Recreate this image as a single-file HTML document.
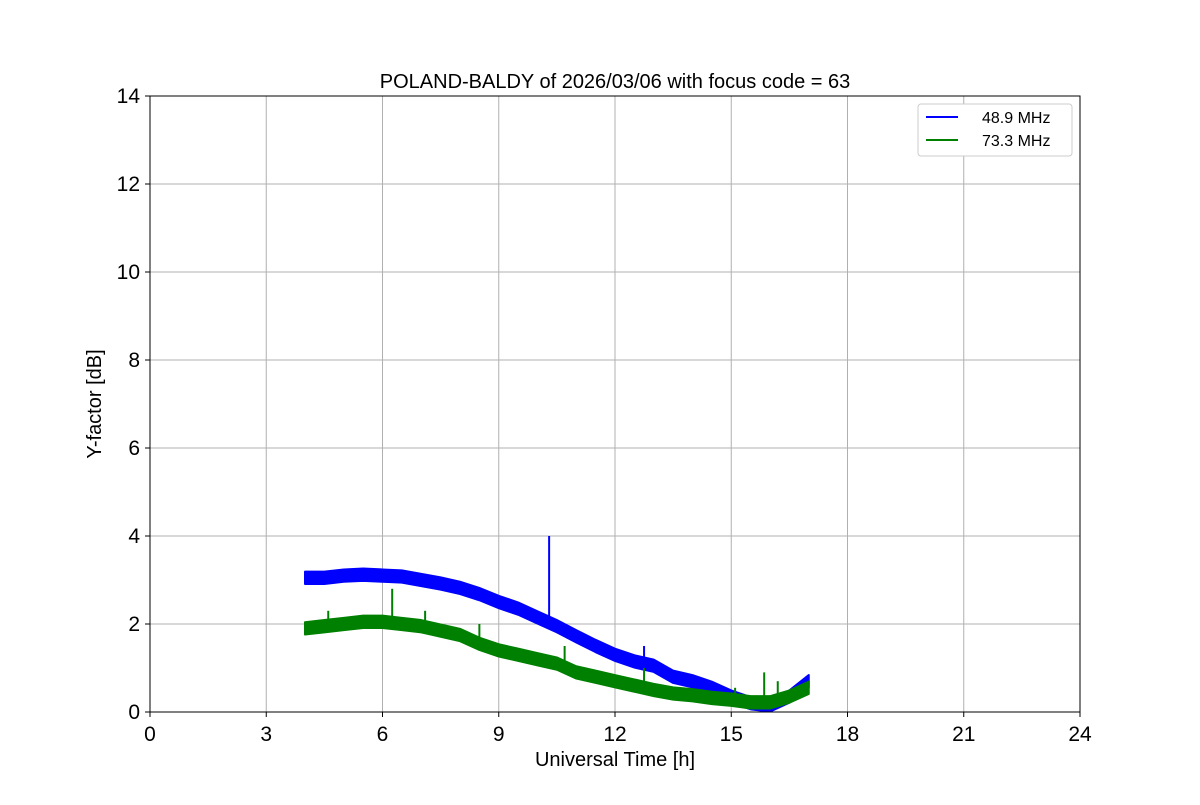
<!DOCTYPE html>
<html><head><meta charset="utf-8"><style>
body{margin:0;background:#fff;}
svg text{font-family:"Liberation Sans","DejaVu Sans",sans-serif;fill:#000;}
</style></head><body>
<svg id="chart" width="1200" height="800" xmlns="http://www.w3.org/2000/svg">
<rect width="1200" height="800" fill="#fff"/>
<g id="grid"></g>
<g id="series"></g>
<rect x="150" y="96" width="930" height="616" fill="none" stroke="#000" stroke-width="1"/>
<g id="ticks"></g>
<text x="615" y="88" font-size="20" text-anchor="middle">POLAND-BALDY of 2026/03/06 with focus code = 63</text>
<text x="615" y="766" font-size="20" text-anchor="middle">Universal Time [h]</text>
<text transform="translate(101,404) rotate(-90)" font-size="20" text-anchor="middle">Y-factor [dB]</text>
<g>
<rect x="918" y="104" width="154" height="52" rx="3" fill="#fff" stroke="#ccc"/>
<line x1="926" y1="117" x2="958" y2="117" stroke="#0000ff" stroke-width="2"/>
<text x="982" y="123" font-size="16">48.9 MHz</text>
<line x1="926" y1="140" x2="958" y2="140" stroke="#008000" stroke-width="2"/>
<text x="982" y="146" font-size="16">73.3 MHz</text>
</g>
</svg>
<script>
const hours=[4,4.5,5,5.5,6,6.5,7,7.5,8,8.5,9,9.5,10,10.5,11,11.5,12,12.5,13,13.5,14,14.5,15,15.5,16,16.5,17];
const blueVals=[3.05,3.05,3.1,3.12,3.1,3.08,3.0,2.92,2.82,2.68,2.5,2.35,2.15,1.95,1.72,1.5,1.3,1.15,1.05,0.8,0.7,0.55,0.35,0.2,0.15,0.35,0.7];
const greenVals=[1.9,1.95,2.0,2.05,2.05,2.0,1.95,1.85,1.75,1.55,1.4,1.3,1.2,1.1,0.9,0.8,0.7,0.6,0.5,0.42,0.38,0.32,0.28,0.22,0.22,0.35,0.55];
const bandHalf=0.14;
const blueSpikeX=[10.3,12.75];
const blueSpikeY=[4.0,1.5];
const greenSpikeX=[4.6,6.25,7.1,8.5,10.7,12.75,15.1,15.85,16.2];
const greenSpikeY=[2.3,2.8,2.3,2.0,1.5,1.0,0.55,0.9,0.7];
const xTicks=[0,3,6,9,12,15,18,21,24];
const yTicks=[0,2,4,6,8,10,12,14];
const NS="http://www.w3.org/2000/svg";
const X=h=>150+h*930/24, Y=v=>712-v*616/14;
function mk(tag,attrs,parent){const e=document.createElementNS(NS,tag);for(const k in attrs)e.setAttribute(k,attrs[k]);parent.appendChild(e);return e;}
const grid=document.getElementById('grid'),ticks=document.getElementById('ticks'),series=document.getElementById('series');
xTicks.forEach(t=>{
 const g=mk('line',{x1:X(t),x2:X(t),y1:96,y2:712,stroke:'#b0b0b0','stroke-width':1},grid);
 
 
 mk('line',{x1:X(t),x2:X(t),y1:712,y2:717,stroke:'#000'},ticks);
 const tx=mk('text',{x:X(t),y:741,'font-size':21,'text-anchor':'middle'},ticks);tx.textContent=t;
 
 
});
yTicks.forEach(t=>{
 const g=mk('line',{x1:150,x2:1080,y1:Y(t),y2:Y(t),stroke:'#b0b0b0','stroke-width':1},grid);
 
 
 mk('line',{x1:145,x2:150,y1:Y(t),y2:Y(t),stroke:'#000'},ticks);
 const tx=mk('text',{x:140,y:Y(t)+7,'font-size':21,'text-anchor':'end'},ticks);tx.textContent=t;
 
 
});
function band(vals,color,name){
 let pts=hours.map((h,i)=>X(h)+','+Y(vals[i]+bandHalf));
 pts=pts.concat(hours.slice().reverse().map((h,j)=>X(h)+','+Y(vals[hours.length-1-j]-bandHalf)));
 const p=mk('polygon',{points:pts.join(' '),fill:color,stroke:color,'stroke-width':2,'stroke-linejoin':'round'},series);
 
 
}
function spikes(xs,ys,vals,color,name){
 xs.forEach((h,i)=>{
  let k=0;while(k<hours.length-2&&hours[k+1]<h)k++;
  const base=vals[k]+(vals[k+1]-vals[k])*(h-hours[k])/(hours[k+1]-hours[k]);
  const l=mk('line',{x1:X(h),x2:X(h),y1:Y(base),y2:Y(ys[i]),stroke:color,'stroke-width':2},series);
  
  
 });
}
band(blueVals,'#0000ff','series-48-9-mhz');
spikes(blueSpikeX,blueSpikeY,blueVals,'#0000ff','spike-48-9-mhz');
band(greenVals,'#008000','series-73-3-mhz');
spikes(greenSpikeX,greenSpikeY,greenVals,'#008000','spike-73-3-mhz');
</script>
</body></html>
